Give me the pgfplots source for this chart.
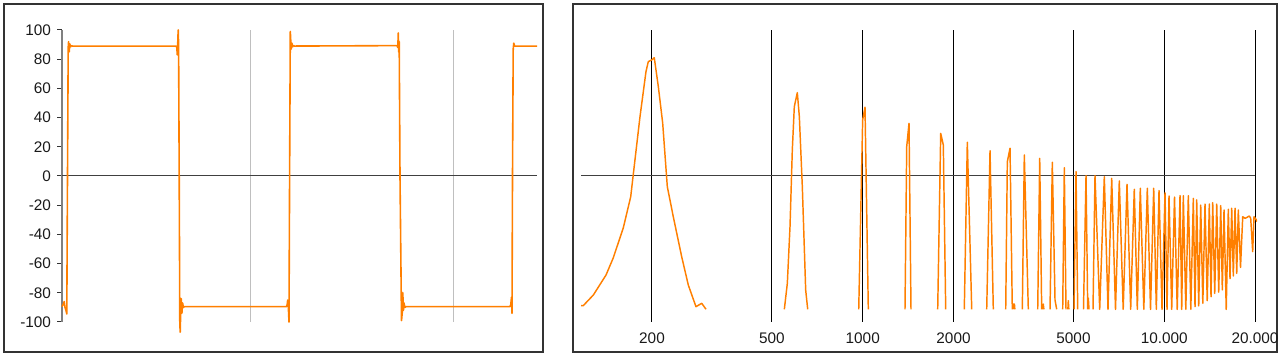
\documentclass[border=0pt]{standalone}
\usepackage{pgfplots}
\pgfplotsset{compat=1.18}
\usepackage{fontspec}
\setmainfont{Liberation Sans}
\definecolor{sig}{HTML}{FF7F00}
\definecolor{frame}{HTML}{333333}
\begin{document}
\begin{tikzpicture}[x=1pt,y=1pt]
\path[use as bounding box] (0,0) rectangle (961.5,267);
\draw[line width=1.5pt, draw=frame] (3.2,3.2) rectangle (407.5,263.8);
\draw[line width=1.5pt, draw=frame] (430,3.2) rectangle (958,263.8);

\begin{axis}[
  at={(46.5pt,25.5pt)}, anchor=south west,
  scale only axis, width=356.25pt, height=219pt,
  xmin=0, xmax=475, ymin=-100, ymax=100,
  clip=false,
  axis x line=bottom, axis y line=left,
  x axis line style={draw=none},
  y axis line style={-, draw=black!50, line width=1.5pt},
  xtick={188,391}, xticklabels={}, x tick style={draw=none},
  xmajorgrids, x grid style={black!25, line width=0.75pt},
  ytick={-100,-80,-60,-40,-20,0,20,40,60,80,100},
  yticklabels={-100,-80,-60,-40,-20,0,20,40,60,80,100},
  tick align=outside, major tick length=3.75pt,
  y tick style={black!80, line width=0.75pt},
  tick label style={font=\fontsize{11.5}{13}\selectfont, text=black!90},
  yticklabel style={xshift=-1pt},
]
\addplot[black!75, line width=0.75pt] coordinates {(0,0) (475,0)};
\addplot[sig, line width=1.2pt, line join=round] table {
x y
0 -89.5
1.5 -87.5
2.2 -86
3 -90
4 -92
4.8 -94.5
5.5 0
6.2 88
6.6 92
7.2 85
7.8 90.5
8.6 88.5
9.5 89.2
10.5 89
114 89
114.8 88
115.3 83
115.8 92
116.2 100
116.6 90
117.2 0
117.8 -100
118.2 -107
118.8 -90
119.3 -84
119.9 -94
120.6 -87
121.4 -90
122.3 -89.5
224.5 -89.5
225.2 -88
225.7 -85
226.3 -89
227 -100
227.6 0
228.3 99
228.8 92
229.3 87
229.9 91
230.6 88.5
231.5 89.3
232.5 89
335 89.3
335.8 88
336.3 98
336.7 85
337.2 92
338 0
339.5 -99
340.2 -94
340.8 -80
341.4 -92
342 -87
342.8 -90
344 -89.5
448 -89.5
448.8 -88
449.5 -83
450 -94
450.5 0
451.2 87
451.8 91
452.6 89
475 89
};
\end{axis}

\begin{axis}[
  at={(435.75pt,25.5pt)}, anchor=south west,
  scale only axis, width=507pt, height=219pt,
  xmode=log, xmin=116.3, xmax=20308, ymin=-100, ymax=100,
  axis x line=bottom, axis y line=none,
  x axis line style={draw=none},
  xtick={200,500,1000,2000,5000,10000,20000},
  xticklabels={200,500,1000,2000,5000,10.000,20.000},
  x tick style={draw=none},
  xmajorgrids, x grid style={black, line width=0.75pt},
  ytick=\empty,
  unbounded coords=jump,
  tick label style={font=\fontsize{11.5}{13}\selectfont, text=black!90},
  xticklabel style={yshift=-2.5pt},
]
\addplot[black!75, line width=0.75pt] coordinates {(116.3,0) (20000,0)};
\addplot[sig, line width=1.1pt, line join=round] table {
x y
116.3 -88.8
118.3 -88.8
127.8 -81.5
140.8 -67.8
148.7 -56.2
160.6 -35.6
170.0 -14.2
175.6 11.0
182.5 40.6
191.0 71.4
194.4 78.3
199.6 79.5
203.5 81.0
209.9 61.2
217.0 36.3
224.8 -7.3
235.3 -27.9
250.9 -55.3
263.9 -74.7
279.8 -89.5
292.4 -87.2
302.1 -91.3
nan nan
549.5 -91.3
562.2 -73.5
573.8 -34.7
584.0 17.8
593.0 47.5
606.8 57.1
616.2 40.6
630.4 -7.3
646.8 -78.1
656.8 -91.3
nan nan
969.8 -91.3
999.4 38.4
1017.4 47.1
1043.4 -91.3
nan nan
1380.8 -91.3
1399.0 20.1
1423.8 36.1
1445.6 -91.3
nan nan
1772.8 -91.3
1813.8 29.2
1850.4 21.2
1884.4 -91.3
nan nan
2171.8 -91.3
2222.4 23.1
2298.4 -91.3
nan nan
2577.2 -91.3
2643.2 17.3
2710.4 -91.3
nan nan
2980 -91.3
3016.6 9.8
3079.6 19.0
3133.6 -91.3
nan nan
3150 -91.3
3160 -87.7
3185 -87.7
3195 -91.3
nan nan
3382.8 -91.3
3434.8 14.4
3541.4 -91.3
nan nan
3805 -91.3
3863.2 12.1
3922.6 -91.3
nan nan
3955 -91.3
3970 -87.7
3990 -91.3
nan nan
4179.8 -91.3
4253.6 9.4
4342 -85
4398.6 -91.3
nan nan
4604.8 -91.3
4661.4 5.7
4721.8 -91.3
nan nan
4790 -91.3
4806 -85.4
4825 -91.3
nan nan
5020.4 -91.3
5097.6 3.0
5163.6 -91.3
nan nan
5397 -91.3
5502 0.2
5574 -91.3
nan nan
5590 -91.3
5599 -83.6
5629 -91.3
nan nan
5804 -91.3
5893 0.2
6108 -91.3
6327 -0.5
6508 -91.3
6695 -1.6
6892 -91.3
7095 -3.4
7309 -91.3
7525 -5.7
7740 -91.3
7956 -9.1
8140 -91.3
8329 -8.4
8555 -91.3
8787 -8.4
9004 -91.3
9226 -8.4
9412 -91.3
9608 -10
9830 -91.3
10058 -11.6
10213 -91.3
10370 -13.7
10586 -91.3
10815 -14.4
11041 -91.3
11279 -13.5
11427 -91.3
11567 -13.5
11790 -91.3
12017 -13.5
12249 -91.3
12486 -15.3
12648 -89.5
12813 -16.4
13011 -89
13211 -19.9
13425 -87.2
13652 -19.2
13884 -85.4
14108 -19.2
14293 -82.7
14479 -18.3
14702 -80.4
14929 -19.2
15159 -79.5
15393 -20.3
15582 -78
15785 -23.3
16053 -91.3
16312 -22.8
16525 -70.3
16741 -22.1
16947 -68.5
17169 -22.1
17393 -66.7
17606 -23.3
17905 -62.6
18208 -27.9
18531 -29
18859 -28.2
19150 -27.4
19356 -29
19652 -51.8
19848 -27.9
20153 -29.7
20308 -31.3
};
\end{axis}
\end{tikzpicture}
\end{document}
